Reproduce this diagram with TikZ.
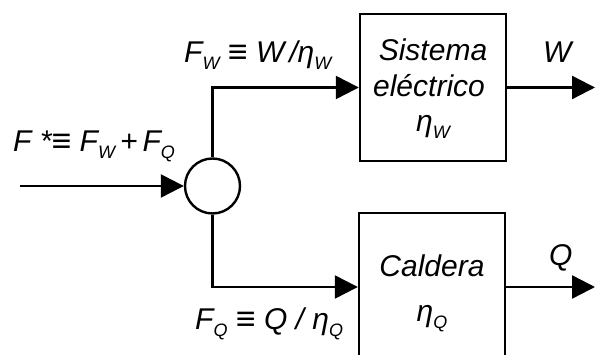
\documentclass[tikz,border=0pt]{standalone}
\usepackage{fontspec}
\setmainfont{Liberation Sans}
\usetikzlibrary{arrows.meta}
\newcommand{\sbx}[1]{\raisebox{-7pt}{\fontsize{18}{18}\selectfont #1}}
\newcommand{\eqv}{{\fontsize{34}{34}\selectfont\raisebox{-1pt}{≡}}}
\begin{document}
\begin{tikzpicture}[x=1pt,y=1pt,
  ln/.style={line width=2.4pt},
  arr/.style={ln,-{Triangle[length=23pt,width=23pt]}},
  blk/.style={draw,line width=2.4pt,minimum width=146pt,minimum height=147pt,inner sep=0pt},
  lbl/.style={inner sep=0pt,font=\fontsize{30}{32}\selectfont\itshape}]
\useasboundingbox (0,0) rectangle (596,355);
\clip (0,0) rectangle (596,355);
\node[draw, circle, ln, minimum size=55pt, inner sep=0pt] (c) at (212.5,169) {};
\node[blk] (b1) at (433,267.5) {};
\node[blk, minimum height=148pt] (b2) at (432,68) {};
\coordinate (in) at (20,169);
\coordinate (o1) at (595,267.5);
\coordinate (o2) at (595,68);
\draw[arr] (in) -- (c.west);
\draw[arr] (c.north) |- (b1.west);
\draw[arr] (c.south) |- (b2.west);
\draw[arr] (b1.east) -- (o1);
\draw[arr] (b2.east) -- (o2);
\node[lbl, anchor=base west] (lfw) at (184,292) {F\sbx{W} \eqv\ W\kern5pt/η\sbx{W}};
\node[lbl, anchor=base west] (lfs) at (13,203) {F *\eqv\ F\sbx{W}\,+\,F\sbx{Q}};
\node[lbl, anchor=base west] (lfq) at (195,25) {F\sbx{Q} \eqv\ Q / η\sbx{Q}};
\node[lbl, anchor=base west] (lw) at (543,292) {W};
\node[lbl, anchor=base west] (lq) at (549,89) {Q};
\node[lbl, anchor=base] (t1) at (433,294) {Sistema};
\node[lbl, anchor=base] (t2) at (429,258) {eléctrico};
\node[lbl, anchor=base] (t3) at (433,223) {η\sbx{W}};
\node[lbl, anchor=base] (t4) at (432,78) {Caldera};
\node[lbl, anchor=base] (t5) at (432,33) {η\sbx{Q}};
\end{tikzpicture}
\end{document}
